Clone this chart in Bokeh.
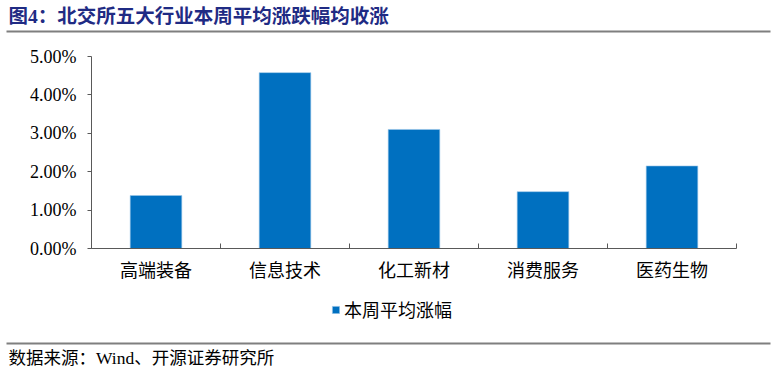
from bokeh.plotting import figure
from bokeh.models import (Range1d, FixedTicker, PrintfTickFormatter, Label,
                          PolyAnnotation, Legend, LegendItem, ColumnDataSource)
from bokeh.embed import file_html
from bokeh.resources import INLINE

# ---- data ----
categories = ["高端装备", "信息技术", "化工新材", "消费服务", "医药生物"]
weekly_avg_change = [1.38, 4.58, 3.10, 1.48, 2.15]   # %
y_ticks = [0, 1, 2, 3, 4, 5]
series_name = "本周平均涨幅"
title_text = "图4：北交所五大行业本周平均涨跌幅均收涨"
source_text = "数据来源：Wind、开源证券研究所"

FONT = "Liberation Serif, Noto Sans CJK SC"
AXIS_GRAY = "#595959"
RULE_GRAY = "#7f7f7f"

# ---- layout (pixels) ----
W, H = 774, 373
PX_LEFT, PX_RIGHT = 91, 736      # plot area horizontal extent
PX_TOP, PX_BOTTOM = 56, 248      # plot area vertical extent

n = len(categories)
ymax = y_ticks[-1]
sx = (PX_RIGHT - PX_LEFT) / n
sy = (PX_BOTTOM - PX_TOP) / ymax
x_range = Range1d(-PX_LEFT / sx, n + (W - PX_RIGHT) / sx)
y_range = Range1d(-(H - PX_BOTTOM) / sy, ymax + PX_TOP / sy)

xpos = [i + 0.5 for i in range(n)]
src = ColumnDataSource(dict(x=xpos, top=weekly_avg_change, cat=categories))

p = figure(width=W, height=H, x_range=x_range, y_range=y_range,
           output_backend="svg", toolbar_location=None, min_border=0)
p.outline_line_color = None
p.xgrid.grid_line_color = None
p.ygrid.grid_line_color = None
p.background_fill_color = "white"
p.border_fill_color = "white"

r = p.vbar(x="x", top="top", width=0.4, source=src, fill_color="#0070C0",
           line_color="#9cc8ea", line_width=0.6)

ya = p.yaxis[0]
ya.fixed_location = 0
ya.bounds = (0, ymax)
ya.ticker = FixedTicker(ticks=y_ticks)
ya.formatter = PrintfTickFormatter(format="%.2f%%")
ya.axis_line_color = AXIS_GRAY
ya.major_tick_line_color = AXIS_GRAY
ya.major_tick_in = 0
ya.major_tick_out = 4
ya.minor_tick_line_color = None
ya.major_label_text_font = FONT
ya.major_label_text_font_size = "18px"
ya.major_label_text_color = "#000000"
ya.major_label_standoff = 11

xa = p.xaxis[0]
xa.fixed_location = 0
xa.bounds = (0, n)
xa.ticker = FixedTicker(ticks=xpos, minor_ticks=list(range(n + 1)))
xa.major_label_overrides = {x: c for x, c in zip(xpos, categories)}
xa.axis_line_color = AXIS_GRAY
xa.major_tick_line_color = None
xa.major_tick_in = 0
xa.major_tick_out = 0
xa.minor_tick_line_color = AXIS_GRAY
xa.minor_tick_in = 5
xa.minor_tick_out = 0
xa.major_label_text_font = FONT
xa.major_label_text_font_size = "18px"
xa.major_label_text_color = "#000000"
xa.major_label_standoff = 12

legend = Legend(items=[LegendItem(label=series_name, renderers=[r])],
                location=(331, H - 322), orientation="horizontal",
                border_line_color=None, background_fill_alpha=0,
                padding=0, margin=0, spacing=0,
                glyph_width=9, glyph_height=9, label_standoff=4, label_height=20,
                label_text_font=FONT, label_text_font_size="18px",
                label_text_color="#000000")
p.add_layout(legend)

# title
p.add_layout(Label(x=8, y=H - 16, x_units="screen", y_units="screen",
                   text=title_text, text_font=FONT, text_font_size="19.5px",
                   text_font_style="bold", text_color="#1f2b84",
                   text_baseline="middle", text_align="left"))
# horizontal rules
for ytop in (30, 342):
    p.add_layout(PolyAnnotation(xs=[6, 770, 770, 6],
                                ys=[H - ytop, H - ytop, H - ytop - 2, H - ytop - 2],
                                xs_units="screen", ys_units="screen",
                                fill_color=RULE_GRAY, fill_alpha=1, line_alpha=0))
# source
p.add_layout(Label(x=8, y=H - 357, x_units="screen", y_units="screen",
                   text=source_text, text_font=FONT, text_font_size="17.5px",
                   text_color="#000000", text_baseline="middle", text_align="left"))

open("out.html", "w").write(file_html(p, INLINE))
